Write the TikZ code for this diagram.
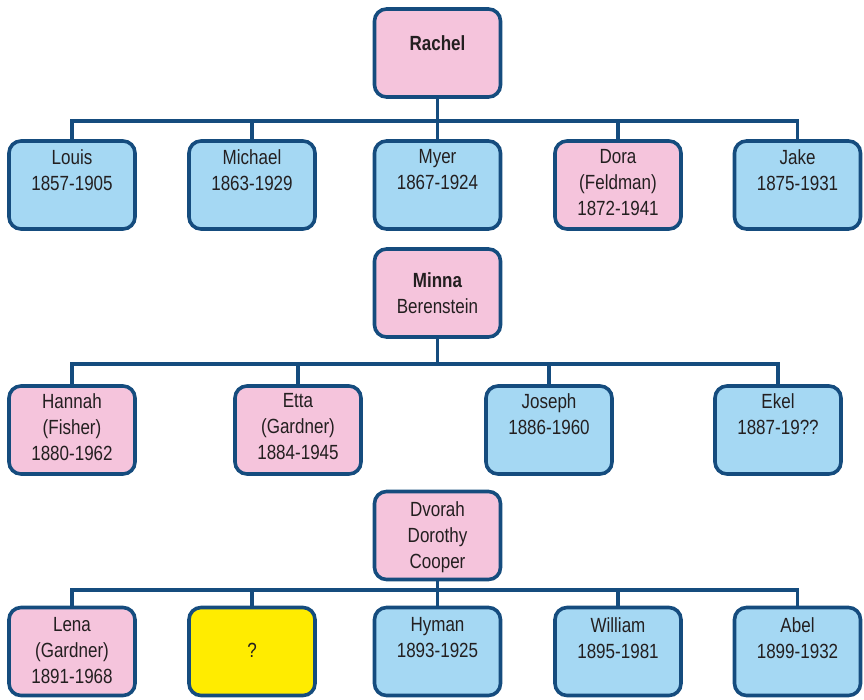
\documentclass[tikz,border=0pt]{standalone}
\usepackage{fontspec}
\setmainfont{Liberation Sans}[FakeStretch=0.83]
\definecolor{pinkbox}{HTML}{F5C4DC}
\definecolor{bluebox}{HTML}{A5D8F3}
\definecolor{yellowbox}{HTML}{FFEC00}
\definecolor{edge}{HTML}{154C7E}
\definecolor{ink}{HTML}{231F20}
\tikzset{
  box/.style={draw=edge, line width=3.6pt, rounded corners=12pt, minimum width=126pt, minimum height=88pt, inner sep=0pt},
  pbox/.style={box, fill=pinkbox},
  bbox/.style={box, fill=bluebox},
  ybox/.style={box, fill=yellowbox},
  txt/.style={anchor=north, yshift=16pt, align=center, text=ink, inner sep=0pt, font=\fontsize{20.5}{26}\selectfont, execute at begin node=\rule{0pt}{16pt}},
  conn/.style={draw=edge, line width=3.6pt},
}
\begin{document}
\begin{tikzpicture}[x=1pt,y=-1pt]
\useasboundingbox (0,0) rectangle (864,699);
% generation 1
\node[pbox] (rachel) at (437.5,53) {};
\node[txt] (trachel) at (437.5,50) {\textbf{Rachel}};
\node[bbox] (louis) at (72,185) {};
\node[bbox] (michael) at (252,185) {};
\node[bbox] (myer) at (437.5,185) {};
\node[pbox] (dora) at (618,185) {};
\node[bbox] (jake) at (797.5,185) {};
\node[txt] (tlouis) at (72,165) {Louis\\1857-1905};
\node[txt] (tmichael) at (252,165) {Michael\\1863-1929};
\node[txt] (tmyer) at (437.5,165) {Myer\\1867-1924};
\node[txt] (tdora) at (618,165) {Dora\\(Feldman)\\1872-1941};
\node[txt] (tjake) at (797.5,165) {Jake\\1875-1931};
\coordinate (bus1) at (437.5,121);
\draw[conn] (rachel.south) -- (bus1);
\draw[conn] (louis.north) |- (bus1) -| (jake.north);
\draw[conn] (michael.north) -- (michael.north |- bus1);
\draw[conn] (myer.north) -- (bus1);
\draw[conn] (dora.north) -- (dora.north |- bus1);
% generation 2
\node[pbox] (minna) at (437.5,293) {};
\node[txt] (tminna) at (437.5,288) {\textbf{Minna}\\Berenstein};
\node[pbox] (hannah) at (72,430) {};
\node[pbox] (etta) at (298,430) {};
\node[bbox] (joseph) at (549,430) {};
\node[bbox] (ekel) at (778,430) {};
\node[txt] (thannah) at (72,409) {Hannah\\(Fisher)\\1880-1962};
\node[txt] (tetta) at (298,409) {Etta\\(Gardner)\\1884-1945};
\node[txt] (tjoseph) at (549,409) {Joseph\\1886-1960};
\node[txt] (tekel) at (778,409) {Ekel\\1887-19??};
\coordinate (bus2) at (437.5,364);
\draw[conn] (minna.south) -- (bus2);
\draw[conn] (hannah.north) |- (bus2) -| (ekel.north);
\draw[conn] (etta.north) -- (etta.north |- bus2);
\draw[conn] (joseph.north) -- (joseph.north |- bus2);
% generation 3
\node[pbox] (dvorah) at (437.5,535.5) {};
\node[txt] (tdvorah) at (437.5,517) {Dvorah\\Dorothy\\Cooper};
\node[pbox] (lena) at (72,651.5) {};
\node[ybox] (unknown) at (252,651.5) {};
\node[bbox] (hyman) at (437.5,651.5) {};
\node[bbox] (william) at (618,651.5) {};
\node[bbox] (abel) at (797.5,651.5) {};
\node[txt] (tlena) at (72,633) {Lena\\(Gardner)\\1891-1968};
\node[txt] (tunknown) at (252,657) {?};
\node[txt] (thyman) at (437.5,633) {Hyman\\1893-1925};
\node[txt] (twilliam) at (618,633) {William\\1895-1981};
\node[txt] (tabel) at (797.5,633) {Abel\\1899-1932};
\coordinate (bus3) at (437.5,590);
\draw[conn] (dvorah.south) -- (bus3);
\draw[conn] (lena.north) |- (bus3) -| (abel.north);
\draw[conn] (unknown.north) -- (unknown.north |- bus3);
\draw[conn] (hyman.north) -- (bus3);
\draw[conn] (william.north) -- (william.north |- bus3);
\end{tikzpicture}
\end{document}
